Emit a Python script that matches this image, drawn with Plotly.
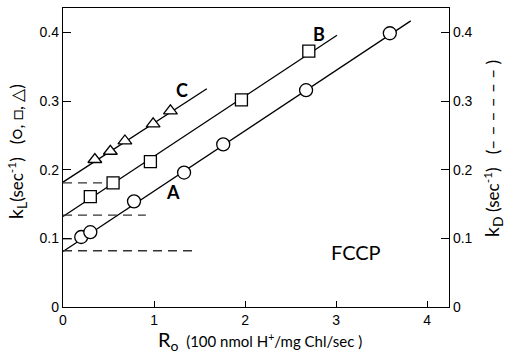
import plotly.graph_objects as go

# Data
circ_x = [0.20, 0.30, 0.78, 1.33, 1.76, 2.67, 3.59]
circ_y = [0.102, 0.109, 0.154, 0.196, 0.237, 0.316, 0.399]
sq_x = [0.30, 0.55, 0.96, 1.96, 2.70]
sq_y = [0.161, 0.181, 0.212, 0.302, 0.373]
tri_x = [0.35, 0.52, 0.68, 0.99, 1.18]
tri_y = [0.215, 0.227, 0.242, 0.267, 0.286]

lineA_x = [0.0, 3.82]
lineA_y = [0.081, 0.417]
lineB_x = [0.0, 3.01]
lineB_y = [0.132, 0.396]
lineC_x = [0.0, 1.58]
lineC_y = [0.182, 0.318]

# k_D dashed levels: (value, x end)
dash_levels = [0.181, 0.134, 0.0994, 0.082]
dash_ends = [0.45, 0.91, 0.13, 1.47]

x_ticks = [0, 1, 2, 3, 4]
y_ticks = [0, 0.1, 0.2, 0.3, 0.4]
y_labels = ["0", "0.1", "0.2", "0.3", "0.4"]

XR = [0, 4.24]
YR = [0, 0.4358]

fig = go.Figure()

for lx, ly in [(lineA_x, lineA_y), (lineB_x, lineB_y), (lineC_x, lineC_y)]:
    fig.add_trace(go.Scatter(x=lx, y=ly, mode="lines",
                             line=dict(color="black", width=1.3),
                             showlegend=False, hoverinfo="skip"))

for lvl, xe in zip(dash_levels, dash_ends):
    fig.add_trace(go.Scatter(x=[0, xe], y=[lvl, lvl], mode="lines",
                             line=dict(color="#333", width=1.3, dash="9px,6px"),
                             showlegend=False, hoverinfo="skip"))

fig.add_trace(go.Scatter(x=circ_x, y=circ_y, mode="markers",
                         marker=dict(symbol="circle", size=13, color="white",
                                     line=dict(color="black", width=1.3)),
                         showlegend=False))
fig.add_trace(go.Scatter(x=sq_x, y=sq_y, mode="markers",
                         marker=dict(symbol="square", size=12, color="white",
                                     line=dict(color="black", width=1.3)),
                         showlegend=False))
fig.add_trace(go.Scatter(x=tri_x, y=tri_y, mode="markers",
                         marker=dict(symbol="triangle-up", size=12, color="white",
                                     line=dict(color="black", width=1.3)),
                         showlegend=False))

# invisible trace on y2 so the right axis is drawn
fig.add_trace(go.Scatter(x=[0], y=[0], yaxis="y2", mode="markers",
                         marker=dict(opacity=0), showlegend=False, hoverinfo="skip"))

tickfont = dict(family="Liberation Sans, Arial, sans-serif", size=14, color="black")

fig.update_layout(
    width=505, height=355,
    margin=dict(l=63, r=56, t=8, b=48),
    paper_bgcolor="white", plot_bgcolor="white",
    xaxis=dict(range=XR, tickvals=x_ticks, ticktext=[str(v) for v in x_ticks],
               ticks="inside", ticklen=6, tickwidth=1.2, tickcolor="black",
               showline=True, linecolor="black", linewidth=1.3, mirror=True,
               showgrid=False, zeroline=False, tickfont=tickfont),
    yaxis=dict(range=YR, tickvals=y_ticks, ticktext=y_labels,
               ticks="inside", ticklen=8, tickwidth=1.2, tickcolor="black",
               showline=True, linecolor="black", linewidth=1.3,
               showgrid=False, zeroline=False, tickfont=tickfont),
    yaxis2=dict(range=YR, tickvals=y_ticks, ticktext=y_labels, overlaying="y",
                side="right", ticks="inside", ticklen=8, tickwidth=1.2,
                tickcolor="black", showline=True, linecolor="black", linewidth=1.3,
                showgrid=False, zeroline=False, tickfont=tickfont),
)

lab = dict(family="Lato, 'Open Sans', sans-serif", color="black")
fig.add_annotation(x=1.21, y=0.168, xref="x", yref="y", text="<b>A</b>", showarrow=False,
                   font=dict(size=18, **lab))
fig.add_annotation(x=2.81, y=0.398, xref="x", yref="y", text="<b>B</b>", showarrow=False,
                   font=dict(size=18, **lab))
fig.add_annotation(x=1.31, y=0.316, xref="x", yref="y", text="<b>C</b>", showarrow=False,
                   font=dict(size=18, **lab))
fig.add_annotation(x=3.22, y=0.080, xref="x", yref="y", text="FCCP", showarrow=False,
                   font=dict(size=20, **lab))

fig.add_annotation(xref="paper", yref="paper", x=0.51, y=-0.112, yanchor="middle",
                   text="<span style='font-size:20px'>R<sub>o</sub></span>  (100 nmol H<sup>+</sup>/mg Chl/sec )",
                   showarrow=False, font=dict(size=15, **lab))
fig.add_annotation(xref="paper", yref="paper", x=-0.12, y=0.52, xanchor="center",
                   textangle=-90,
                   text="<span style='font-size:20px'>k<sub>L</sub></span>(sec<sup>-1</sup>)   (○, □, △)",
                   showarrow=False, font=dict(size=17, **lab))
fig.add_annotation(xref="paper", yref="paper", x=1.113, y=0.53, xanchor="center",
                   textangle=-90,
                   text="<span style='font-size:20px'>k<sub>D</sub></span> (sec<sup>-1</sup>)   (– – – – – – )",
                   showarrow=False, font=dict(size=17, **lab))

fig.write_html("out.html", config={"displayModeBar": False},
               post_script="document.body.style.margin='0';document.body.style.padding='0';")
